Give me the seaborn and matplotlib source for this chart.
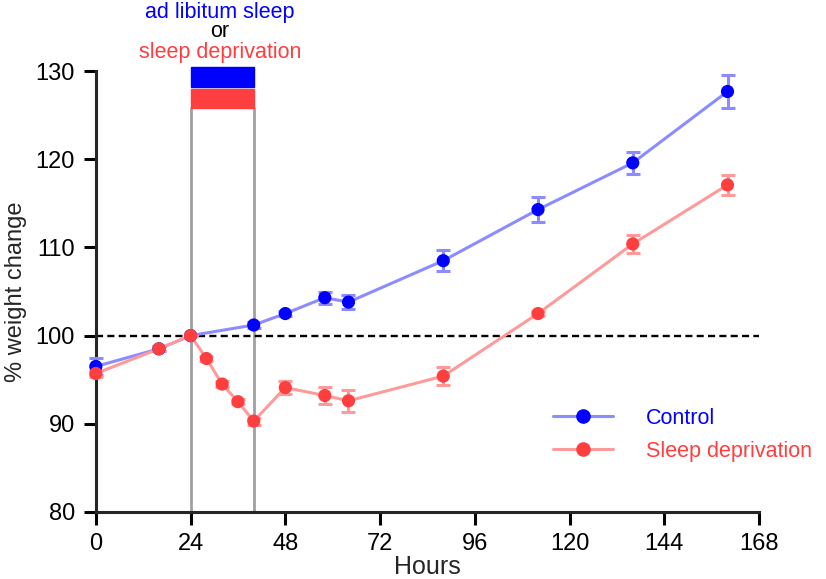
import numpy as np
import pandas as pd
import matplotlib
matplotlib.use('Agg')
import matplotlib.pyplot as plt
from matplotlib.lines import Line2D
from matplotlib.patches import Rectangle
import seaborn as sns

# data
hours_ctrl = [0, 16, 24, 40, 48, 58, 64, 88, 112, 136, 160]
ctrl_mean = [96.5, 98.5, 100.0, 101.2, 102.5, 104.3, 103.8, 108.5, 114.3, 119.6, 127.7]
ctrl_err = [1.0, 0.3, 0.0, 0.3, 0.3, 0.7, 0.8, 1.2, 1.4, 1.25, 1.9]

hours_sd = [0, 16, 24, 28, 32, 36, 40, 48, 58, 64, 88, 112, 136, 160]
sd_mean = [95.7, 98.5, 100.0, 97.4, 94.5, 92.5, 90.3, 94.1, 93.2, 92.6, 95.4, 102.5, 110.4, 117.1]
sd_err = [0.4, 0.3, 0.0, 0.3, 0.3, 0.3, 0.4, 0.75, 1.0, 1.25, 1.0, 0.3, 1.0, 1.1]

x_ticks = [0, 24, 48, 72, 96, 120, 144, 168]
y_ticks = [80, 90, 100, 110, 120, 130]

blue_dark, blue_light = '#0000ff', '#8c8cff'
red_dark, red_light = '#ff3f3f', '#ff9a9a'

df = pd.concat([
    pd.DataFrame({'Hours': hours_ctrl, 'Weight': ctrl_mean, 'Group': 'Control'}),
    pd.DataFrame({'Hours': hours_sd, 'Weight': sd_mean, 'Group': 'Sleep deprivation'}),
], ignore_index=True)

sns.set_style('ticks')
plt.rcParams['font.family'] = ['Liberation Sans', 'DejaVu Sans']

fig = plt.figure(figsize=(8.26, 5.79), dpi=100)
ax = fig.add_axes([0.116, 0.116, 0.803, 0.761])

# treatment window
ax.axvline(24, ymin=0, ymax=(125.8 - 80) / 50, color='#a0a0a0', lw=2, zorder=1)
ax.axvline(40, ymin=0, ymax=(125.8 - 80) / 50, color='#a0a0a0', lw=2, zorder=1)
ax.add_patch(Rectangle((24, 128.2), 16, 2.3, color=blue_dark, clip_on=False, zorder=2))
ax.add_patch(Rectangle((24, 125.8), 16, 2.2, color=red_dark, clip_on=False, zorder=2))

ax.plot([0, 168], [100, 100], ls=(0, (3, 1.8)), color='black', lw=1.7, zorder=1)

palette = {'Control': blue_light, 'Sleep deprivation': red_light}
sns.lineplot(data=df, x='Hours', y='Weight', hue='Group', palette=palette,
             lw=2.2, legend=False, ax=ax, zorder=3)
for line in ax.lines:
    line.set_clip_on(False)

ax.errorbar(hours_ctrl, ctrl_mean, yerr=ctrl_err, fmt='none', ecolor=blue_light,
            elinewidth=2.2, capsize=5, capthick=2.2, zorder=3, clip_on=False)
ax.errorbar(hours_sd, sd_mean, yerr=sd_err, fmt='none', ecolor=red_light,
            elinewidth=2.2, capsize=5, capthick=2.2, zorder=3, clip_on=False)

sns.scatterplot(data=df, x='Hours', y='Weight', hue='Group',
                palette={'Control': blue_dark, 'Sleep deprivation': red_dark},
                s=90, edgecolor='none', legend=False, ax=ax, zorder=4, clip_on=False)

ax.set_xlim(0, 168)
ax.set_ylim(80, 130)
ax.set_xticks(x_ticks)
ax.set_yticks(y_ticks)
ax.tick_params(labelsize=17, width=2.2, length=9, pad=6, colors='black')
for side in ['top', 'right']:
    ax.spines[side].set_visible(False)
for side in ['left', 'bottom']:
    ax.spines[side].set_linewidth(2.2)
ax.set_xlabel('Hours', fontsize=18, labelpad=0)
ax.set_ylabel('% weight change', fontsize=17, labelpad=6)

handles = [
    Line2D([], [], color=blue_light, lw=2.2, marker='o', markerfacecolor=blue_dark,
           markeredgecolor=blue_dark, markersize=9.5),
    Line2D([], [], color=red_light, lw=2.2, marker='o', markerfacecolor=red_dark,
           markeredgecolor=red_dark, markersize=9.5),
]
leg = ax.legend(handles, ['Control', 'Sleep deprivation'], frameon=False, fontsize=15.5,
                loc='center left', bbox_to_anchor=(0.66, 0.175), handlelength=2.8,
                handletextpad=1.5, labelspacing=0.55)
for txt, c in zip(leg.get_texts(), [blue_dark, red_dark]):
    txt.set_color(c)

fig.text(0.266, 0.979, 'ad libitum sleep', color=blue_dark, fontsize=15.5, ha='center', va='center')
fig.text(0.266, 0.945, 'or', color='black', fontsize=15.5, ha='center', va='center')
fig.text(0.266, 0.910, 'sleep deprivation', color=red_dark, fontsize=15.5, ha='center', va='center')

fig.savefig('out.png', dpi=100)
